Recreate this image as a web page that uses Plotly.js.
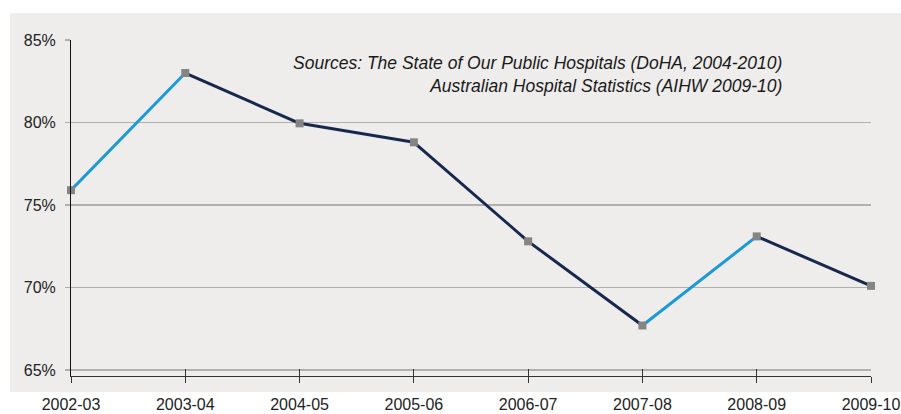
<!DOCTYPE html>
<html>
<head>
<meta charset="utf-8">
<script src="https://cdn.plot.ly/plotly-3.0.1.min.js"></script>
<style>html,body{margin:0;padding:0;background:#fff;}#chart{width:901px;height:414px;}</style>
</head>
<body>
<div id="chart"></div>
<script>
const categories = ["2002-03","2003-04","2004-05","2005-06","2006-07","2007-08","2008-09","2009-10"];
const values = [75.9, 83.0, 79.95, 78.8, 72.8, 67.7, 73.1, 70.1];
const yTickVals = [65, 70, 75, 80, 85];
const yTickText = ["65%", "70%", "75%", "80%", "85%"];
const sourceLines = ["Sources: The State of Our Public Hospitals (DoHA, 2004-2010)", "Australian Hospital Statistics (AIHW 2009-10)"];

const UP = "#1b9ad7", DOWN = "#17284f";
const traces = [];
for (let i = 0; i < values.length - 1; i++) {
  traces.push({
    type: "scatter", mode: "lines",
    x: [categories[i], categories[i+1]], y: [values[i], values[i+1]],
    xaxis: "x", yaxis: "y",
    line: {color: values[i+1] > values[i] ? UP : DOWN, width: 3},
    hoverinfo: "skip", showlegend: false, cliponaxis: false
  });
}
traces.push({
  type: "scatter", mode: "markers", x: categories, y: values,
  xaxis: "x2", yaxis: "y",
  marker: {symbol: "square", size: 8, color: "#858585"},
  showlegend: false, cliponaxis: false
});

const font = "'Liberation Sans', Arial, sans-serif";
const layout = {
  width: 901, height: 414,
  margin: {l: 71, r: 30, t: 40, b: 38},
  paper_bgcolor: "#ffffff", plot_bgcolor: "rgba(0,0,0,0)",
  font: {family: font, size: 16, color: "#222"},
  showlegend: false,
  xaxis: {
    type: "category", categoryarray: categories, categoryorder: "array",
    range: [0, 7], showgrid: false, zeroline: false,
    showline: true, linecolor: "#333", linewidth: 1,
    ticks: "outside", ticklen: 6, tickcolor: "#333", tickwidth: 1,
    tickfont: {family: font, size: 16, color: "#222"},
    ticklabelstandoff: 8, fixedrange: true
  },
  xaxis2: {
    type: "category", categoryarray: categories, categoryorder: "array",
    range: [0, 7], overlaying: "x", anchor: "y", side: "bottom",
    showgrid: false, zeroline: false, showline: false,
    ticks: "inside", ticklen: 7, tickcolor: "#333", tickwidth: 1,
    showticklabels: false, fixedrange: true
  },
  yaxis: {
    range: [64.64, 85], tickvals: yTickVals, ticktext: yTickText,
    showgrid: true, gridcolor: "#b0b0b0", gridwidth: 1.5, zeroline: false,
    showline: true, linecolor: "#111", linewidth: 1,
    ticks: "outside", ticklen: 5, tickcolor: "#b0b0b0", tickwidth: 1.5,
    tickfont: {family: font, size: 16, color: "#222"},
    ticklabelstandoff: 6, fixedrange: true
  },
  shapes: [{
    type: "rect", xref: "paper", yref: "paper", layer: "below",
    x0: -0.07625, x1: 1.04, y0: -0.0476, y1: 1.0804,
    fillcolor: "#eeedeb", line: {width: 0}
  }],
  annotations: [{
    xref: "paper", yref: "paper", x: 0.891, y: 0.897,
    xanchor: "right", yanchor: "middle", align: "right", showarrow: false,
    text: "<i>" + sourceLines.join("<br>") + "</i>",
    font: {family: font, size: 17.5, color: "#1a1a1a"}
  }]
};
Plotly.newPlot("chart", traces, layout, {displayModeBar: false, staticPlot: true});
</script>
</body>
</html>
